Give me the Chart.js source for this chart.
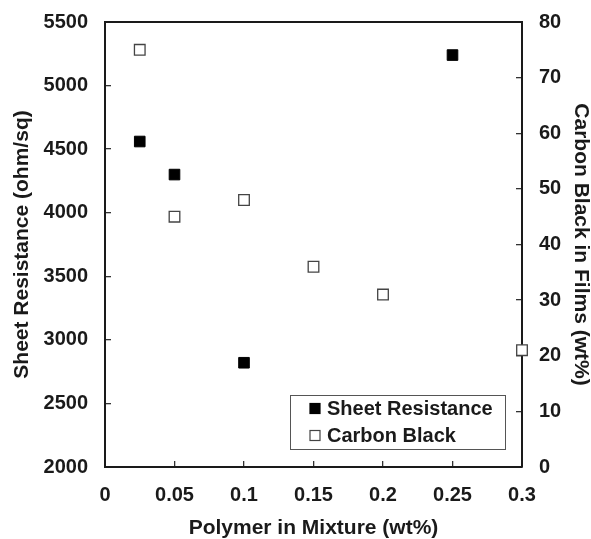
<!DOCTYPE html>
<html>
<head>
<meta charset="utf-8">
<script src="https://cdn.jsdelivr.net/npm/chart.js@4/dist/chart.umd.min.js"></script>
<style>
  html, body { margin:0; padding:0; background:#fff; }
  #wrap { width:591px; height:539px; }
</style>
</head>
<body>
<div id="wrap"><canvas id="chart" width="591" height="539"></canvas></div>
<script>
/* data */
const polymerSR = [0.025, 0.05, 0.1, 0.25];
const sheetResistance = [4560, 4300, 2820, 5240];

const polymerCB = [0.025, 0.05, 0.1, 0.15, 0.2, 0.3];
const carbonBlack = [75, 45, 48, 36, 31, 21];

const xTicks = [0, 0.05, 0.1, 0.15, 0.2, 0.25, 0.3];
const yLeftTicks = [2000, 2500, 3000, 3500, 4000, 4500, 5000, 5500];
const yRightTicks = [0, 10, 20, 30, 40, 50, 60, 70, 80];

const INK = "#1a1a1a";
const FONT = "'Liberation Sans', Arial, sans-serif";

function pairs(xs, ys){
  return xs.map((x,i)=>({x:x, y:ys[i]}));
}

/* box top line */
const frame = {
  id:"frame",
  beforeDatasetsDraw(chart){
    const {ctx, chartArea:a} = chart;
    ctx.save();
    ctx.strokeStyle = INK;
    ctx.lineWidth = 2;
    ctx.beginPath();
    ctx.moveTo(a.left, a.top);
    ctx.lineTo(a.right, a.top);
    ctx.stroke();
    ctx.restore();
  }
};

/* legend box inside plot area */
const insideLegend = {
  id:"insideLegend",
  afterDraw(chart){
    const {ctx, chartArea:a} = chart;
    const bx = a.left + 185, by = a.bottom - 72, bw = 215, bh = 54;
    ctx.save();
    ctx.fillStyle = "#fff";
    ctx.fillRect(bx, by, bw, bh);
    ctx.strokeStyle = "#555";
    ctx.lineWidth = 1;
    ctx.strokeRect(bx+0.5, by+0.5, bw, bh);
    ctx.font = "bold 20px " + FONT;
    ctx.textBaseline = "middle";
    chart.data.datasets.forEach((ds,i)=>{
      const cy = by + 13.5 + i*27;
      const mx = bx + 25;
      ctx.fillStyle = ds.backgroundColor;
      ctx.fillRect(mx-5, cy-5, 10, 10);
      ctx.strokeStyle = ds.borderColor;
      ctx.lineWidth = 1.2;
      ctx.strokeRect(mx-5, cy-5, 10, 10);
      ctx.fillStyle = INK;
      ctx.fillText(ds.label, bx + 37, cy+1);
    });
    ctx.restore();
  }
};

function fixTicks(list){
  return function(scale){
    scale.ticks = list.map(v=>({value:v}));
  };
}

function fitY(w){
  return function(s){
    s.width = w;
    s.paddingTop = 0;
    s.paddingBottom = 0;
  };
}

const tickFont = {family:FONT, size:20, weight:"bold"};
const titleFont = {family:FONT, size:21, weight:"bold", lineHeight:1};
const tickGrid = {drawOnChartArea:false, tickLength:-6, color:"#333", lineWidth:1.3};

new Chart(document.getElementById("chart"),{
  type:"scatter",
  data:{
    datasets:[{
      label:"Sheet Resistance",
      data:pairs(polymerSR, sheetResistance),
      yAxisID:"y",
      pointStyle:"rect",
      pointRadius:7.5,
      pointHoverRadius:7.5,
      backgroundColor:"#000",
      borderColor:"#000",
      borderWidth:1,
      clip:false
    },{
      label:"Carbon Black",
      data:pairs(polymerCB, carbonBlack),
      yAxisID:"y1",
      pointStyle:"rect",
      pointRadius:7.5,
      pointHoverRadius:7.5,
      backgroundColor:"#fff",
      borderColor:"#444",
      borderWidth:1.3,
      clip:false
    }]
  },
  options:{
    responsive:false,
    animation:false,
    layout:{padding:{top:22, left:0, right:0, bottom:0}},
    plugins:{
      legend:{display:false},
      tooltip:{enabled:false}
    },
    scales:{
      x:{
        type:"linear",
        min:0, max:0.3,
        afterBuildTicks:fixTicks(xTicks),
        afterFit(s){ s.height = 72; },
        border:{color:INK, width:2},
        grid:tickGrid,
        ticks:{
          padding:22,
          color:INK,
          font:tickFont,
          callback:v=>String(Number(v.toFixed(2)))
        },
        title:{
          display:true,
          text:"Polymer in Mixture (wt%)",
          color:INK,
          padding:{top:1, bottom:0},
          font:titleFont
        }
      },
      y:{
        type:"linear",
        position:"left",
        min:2000, max:5500,
        afterBuildTicks:fixTicks(yLeftTicks),
        afterFit:fitY(105),
        border:{color:INK, width:2},
        grid:tickGrid,
        ticks:{
          padding:23,
          color:INK,
          font:tickFont,
          callback:v=>String(v)
        },
        title:{
          display:true,
          text:"Sheet Resistance (ohm/sq)",
          color:INK,
          padding:{top:12, bottom:0},
          font:titleFont
        }
      },
      y1:{
        type:"linear",
        position:"right",
        min:0, max:80,
        afterBuildTicks:fixTicks(yRightTicks),
        afterFit:fitY(69),
        border:{color:INK, width:2},
        grid:tickGrid,
        ticks:{
          padding:23,
          color:INK,
          font:tickFont,
          callback:v=>String(v)
        },
        title:{
          display:true,
          text:"Carbon Black in Films (wt%)",
          color:INK,
          padding:{top:0, bottom:0},
          font:titleFont
        }
      }
    }
  },
  plugins:[frame, insideLegend]
});
</script>
</body>
</html>
